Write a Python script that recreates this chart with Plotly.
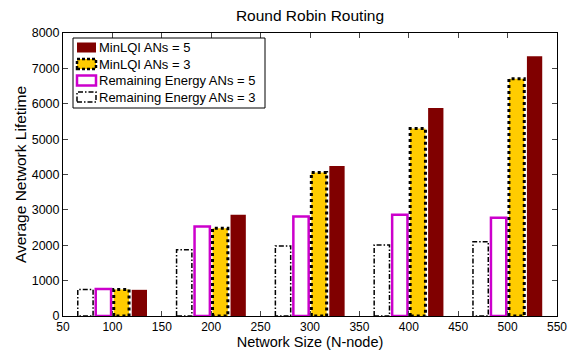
import plotly.graph_objects as go

# ---- data ----
network_sizes = [100, 200, 300, 400, 500]
rem_energy_an3 = [750, 1870, 1980, 2010, 2100]
rem_energy_an5 = [760, 2530, 2810, 2860, 2780]
minlqi_an3 = [750, 2480, 4060, 5300, 6710]
minlqi_an5 = [740, 2860, 4240, 5880, 7340]
series_names = ["Remaining Energy ANs = 3", "Remaining Energy ANs = 5",
                "MinLQI ANs = 3", "MinLQI ANs = 5"]
x_ticks = list(range(50, 551, 50))
y_ticks = list(range(0, 8001, 1000))

# ---- styling ----
offsets = [-27.3, -9.1, 9.1, 27.3]
bw = 15.5
fills = ["white", "white", "#ffcc00", "#800000"]
edge = [None, dict(color="#cc00cc", width=2.5), None, None]
dash_outline = [dict(color="black", width=1.5, dash="5px,2px,1.5px,2px"), None,
                dict(color="black", width=3, dash="3px,3px"), None]
series = [rem_energy_an3, rem_energy_an5, minlqi_an3, minlqi_an5]

fig = go.Figure()
for i, vals in enumerate(series):
    fig.add_trace(go.Bar(
        x=network_sizes, y=vals, name=series_names[i],
        offset=offsets[i] - bw / 2, width=bw,
        marker=dict(color=fills[i],
                    line=edge[i] if edge[i] else dict(width=0)),
        showlegend=False))
for i, vals in enumerate(series):
    if dash_outline[i] is None:
        continue
    xs, ys = [], []
    for x, v in zip(network_sizes, vals):
        x0 = x + offsets[i] - bw / 2
        x1 = x + offsets[i] + bw / 2
        xs += [x0, x0, x1, x1, x0, None]
        ys += [0, v, v, 0, 0, None]
    fig.add_trace(go.Scatter(x=xs, y=ys, mode="lines", line=dash_outline[i],
                             hoverinfo="skip", showlegend=False))

# ---- custom legend (paper coords) ----
L, R, T, B = 63, 557, 33, 316
def px(xp):
    return (xp - L) / (R - L)
def py(yp):
    return (B - yp) / (B - T)

shapes = [dict(type="rect", xref="paper", yref="paper",
               x0=px(73), x1=px(265), y0=py(108), y1=py(38),
               line=dict(color="black", width=1), fillcolor="white", layer="above")]
legend_order = [3, 2, 1, 0]
row_y = [47.5, 64, 80.5, 97]
annots = []
for r, si in enumerate(legend_order):
    yc = row_y[r]
    if si == 3:
        ln = dict(width=0)
    elif si == 2:
        ln = dict(color="black", width=2.5, dash="3px,2px")
    elif si == 1:
        ln = dict(color="#cc00cc", width=2.5)
    else:
        ln = dict(color="black", width=1.5, dash="5px,2px,1.5px,2px")
    shapes.append(dict(type="rect", xref="paper", yref="paper",
                       x0=px(77), x1=px(96), y0=py(yc + 5), y1=py(yc - 5),
                       line=ln, fillcolor=fills[si], layer="above"))
    annots.append(dict(xref="paper", yref="paper", x=px(97), y=py(yc),
                       xanchor="left", yanchor="middle", showarrow=False,
                       text=series_names[si],
                       font=dict(size=13, color="black")))

fig.update_layout(
    width=570, height=350,
    margin=dict(l=L, r=570 - R, t=T, b=350 - B, autoexpand=False),
    paper_bgcolor="white", plot_bgcolor="white",
    font=dict(family="Liberation Sans, Arial, sans-serif", size=12.5, color="black"),
    barmode="overlay",
    title=dict(text="Round Robin Routing", x=(310 - 0) / 570, xanchor="center",
               y=1 - 16 / 350, yanchor="middle", font=dict(size=15.5)),
    shapes=shapes, annotations=annots,
    xaxis=dict(range=[50, 550], tickvals=x_ticks, ticks="inside", ticklen=5,
               showline=True, linecolor="black", linewidth=1, mirror="ticks",
               showgrid=False, zeroline=False, automargin=False,
               tickfont=dict(size=12),
               title=dict(text="Network Size (N-node)", font=dict(size=14.5), standoff=6)),
    yaxis=dict(range=[0, 8000], tickvals=y_ticks, ticks="inside", ticklen=5,
               showline=True, linecolor="black", linewidth=1, mirror="ticks",
               showgrid=False, zeroline=False, automargin=False,
               title=dict(text="Average Network Lifetime", font=dict(size=15.5), standoff=1)),
)
fig.write_html("out.html")
